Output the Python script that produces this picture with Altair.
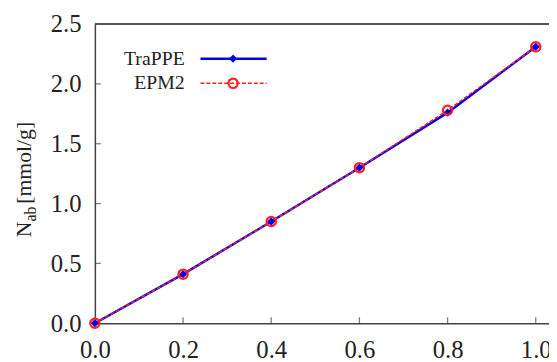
import altair as alt
import pandas as pd

x_vals = [0.0, 0.2, 0.4, 0.6, 0.8, 1.0]
trappe = [0.0, 0.41, 0.85, 1.30, 1.76, 2.31]
epm2 = [0.0, 0.41, 0.85, 1.30, 1.78, 2.31]
x_ticks = [0.0, 0.2, 0.4, 0.6, 0.8, 1.0]
y_ticks = [0.0, 0.5, 1.0, 1.5, 2.0, 2.5]
series_names = ["TraPPE", "EPM2"]

W, H = 460, 303
XMAX = 1.03
FONT = "'Liberation Serif', 'Times New Roman', 'DejaVu Serif', serif"

df_t = pd.DataFrame({"x": x_vals, "y": trappe})
df_e = pd.DataFrame({"x": x_vals, "y": epm2})

xs = alt.Scale(domain=[0, XMAX], nice=False, zero=False)
ys = alt.Scale(domain=[0, 2.5], nice=False)

xax = alt.Axis(values=x_ticks, format=".1f", title=None, grid=False, ticks=False, tickSize=0,
               labelFont=FONT, labelFontSize=25, labelColor="#222", labelPadding=15,
               domainColor="#444", domainWidth=1.5, labelFlush=False)
yax = alt.Axis(values=y_ticks, format=".1f", title=None, grid=False, ticks=False, tickSize=0,
               labelFont=FONT, labelFontSize=25, labelColor="#222", labelPadding=14,
               domainColor="#444", domainWidth=1.5, labelFlush=False)

base_t = alt.Chart(df_t)
base_e = alt.Chart(df_e)

line_t = base_t.mark_line(color="#0000ee", strokeWidth=2.5).encode(
    x=alt.X("x:Q", scale=xs, axis=xax), y=alt.Y("y:Q", scale=ys, axis=yax))
pts_t = base_t.mark_point(shape="diamond", filled=True, color="#0000ee", size=70, opacity=1).encode(
    x=alt.X("x:Q", scale=xs), y=alt.Y("y:Q", scale=ys))
line_e = base_e.mark_line(color="#ff2020", strokeWidth=1.5, strokeDash=[4, 2]).encode(
    x=alt.X("x:Q", scale=xs), y=alt.Y("y:Q", scale=ys))
pts_e = base_e.mark_point(shape="circle", filled=False, color="#ff2020", strokeWidth=2.2, size=90, opacity=1).encode(
    x=alt.X("x:Q", scale=xs), y=alt.Y("y:Q", scale=ys))

# frame top line
top = alt.Chart(pd.DataFrame({"a": [0]})).mark_rule(color="#555", strokeWidth=2).encode(
    x=alt.datum(0, scale=xs), x2=alt.datum(XMAX), y=alt.datum(2.5, scale=ys))

# inward ticks
xt = alt.Chart(pd.DataFrame({"x": x_ticks[1:]})).mark_tick(orient="vertical", color="#444", size=6, thickness=1.3).encode(
    x=alt.X("x:Q", scale=xs), y=alt.datum(0, scale=ys), yOffset=alt.value(-3))
yt = alt.Chart(pd.DataFrame({"y": y_ticks[1:-1]})).mark_tick(orient="horizontal", color="#444", size=6, thickness=1.3).encode(
    y=alt.Y("y:Q", scale=ys), x=alt.datum(0, scale=xs), xOffset=alt.value(3))

# y title with subscript
one = pd.DataFrame({"a": [0]})
tN = alt.Chart(one).mark_text(text="N", angle=270, align="left", baseline="alphabetic",
                              font=FONT, fontSize=22, color="#222").encode(x=alt.value(-65), y=alt.value(216))
tab = alt.Chart(one).mark_text(text="ab", angle=270, align="left", baseline="alphabetic",
                               font=FONT, fontSize=16, color="#222").encode(x=alt.value(-60), y=alt.value(200))
tunit = alt.Chart(one).mark_text(text="[mmol/g]", angle=270, align="left", baseline="alphabetic",
                                 font=FONT, fontSize=22, color="#222").encode(x=alt.value(-65), y=alt.value(182))

# legend
leg_y = {"TraPPE": 35, "EPM2": 60}
lt_text = alt.Chart(pd.DataFrame({"n": [series_names[0]]})).mark_text(
    align="right", baseline="middle", font=FONT, fontSize=20, color="#222").encode(
    text="n:N", x=alt.value(91), y=alt.value(leg_y["TraPPE"]))
le_text = alt.Chart(pd.DataFrame({"n": [series_names[1]]})).mark_text(
    align="right", baseline="middle", font=FONT, fontSize=20, color="#222").encode(
    text="n:N", x=alt.value(91), y=alt.value(leg_y["EPM2"]))
lt_line = alt.Chart(one).mark_rule(color="#0000ee", strokeWidth=2.5).encode(
    x=alt.value(107), x2=alt.value(174), y=alt.value(leg_y["TraPPE"]))
le_line = alt.Chart(one).mark_rule(color="#ff2020", strokeWidth=1.5, strokeDash=[4, 2]).encode(
    x=alt.value(107), x2=alt.value(174), y=alt.value(leg_y["EPM2"]))
lt_pt = alt.Chart(one).mark_point(shape="diamond", filled=True, color="#0000ee", size=70, opacity=1).encode(
    x=alt.value(140), y=alt.value(leg_y["TraPPE"]))
le_pt = alt.Chart(one).mark_point(shape="circle", filled=False, color="#ff2020", strokeWidth=2.2, size=90, opacity=1).encode(
    x=alt.value(140), y=alt.value(leg_y["EPM2"]))

chart = alt.layer(
    line_t, line_e, pts_t, pts_e, top, xt, yt, tN, tab, tunit,
    lt_line, le_line, lt_pt, le_pt, lt_text, le_text
).properties(
    width=W, height=H,
    autosize=alt.AutoSizeParams(type="none"),
    padding={"left": 88, "top": 14, "right": 0, "bottom": 40},
).configure_view(stroke=None).configure(background="white")

chart.save("out.html", embed_options={"renderer": "svg", "actions": False})
